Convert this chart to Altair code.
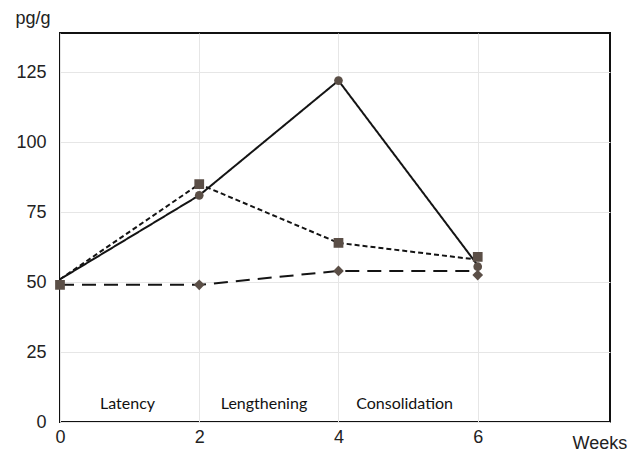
import altair as alt
import pandas as pd

weeks = [0, 2, 4, 6]
solid_vals = [51, 81, 122, 56]
short_vals = [51, 85, 64, 58]
long_vals = [49, 49, 54, 54]

# markers (week 0 shows only the square)
circle_weeks = [2, 4, 6]
circle_vals = [81, 122, 55.5]
square_weeks = [0, 2, 4, 6]
square_vals = [49, 85, 64, 59]
diamond_weeks = [2, 4, 6]
diamond_vals = [49, 54, 52.5]

phase_names = ["Latency", "Lengthening", "Consolidation"]
phase_x = [0.97, 2.93, 4.95]
phase_y = [3.5, 3.5, 3.5]

x_ticks = [0, 2, 4, 6]
y_ticks = [0, 25, 50, 75, 100, 125]

LINE = "#141414"
MARK = "#5b4f47"

xs = alt.Scale(domain=[0, 7.9], nice=False, zero=False)
ys = alt.Scale(domain=[0, 139], nice=False)

xax = alt.Axis(values=x_ticks, format="d", title="Weeks", titleAngle=0, titleX=512, titleY=26,
               titleAlign="left", titleBaseline="alphabetic", titleFontWeight="normal",
               titleFontSize=18, titleColor="#222", labelFontSize=18, labelColor="#222",
               labelPadding=6, ticks=False, domain=False, grid=True, gridColor="#e6e6e6",
               labelFlush=False, labelOverlap=False, labelFont="Liberation Sans",
               titleFont="Liberation Sans")
yax = alt.Axis(values=y_ticks, format="d", title="pg/g", titleAngle=0, titleX=-45, titleY=-10,
               titleAlign="left", titleBaseline="alphabetic", titleFontWeight="normal",
               titleFontSize=18, titleColor="#222", labelFontSize=18, labelColor="#222",
               labelPadding=14, ticks=False, domain=False, grid=True, gridColor="#e6e6e6",
               labelFont="Liberation Sans", titleFont="Liberation Sans")


def line(vals, dash):
    df = pd.DataFrame({"w": weeks, "v": vals})
    m = alt.Chart(df).mark_line(color=LINE, strokeWidth=2, strokeDash=dash)
    return m.encode(x=alt.X("w:Q", scale=xs, axis=xax), y=alt.Y("v:Q", scale=ys, axis=yax))


def pts(wk, vals, shape, size):
    df = pd.DataFrame({"w": wk, "v": vals})
    return alt.Chart(df).mark_point(shape=shape, filled=True, color=MARK, opacity=1, size=size).encode(
        x=alt.X("w:Q", scale=xs), y=alt.Y("v:Q", scale=ys))


phases = alt.Chart(pd.DataFrame({"n": phase_names, "x": phase_x, "y": phase_y})).mark_text(
    font="Lato", fontSize=16, color="#111", baseline="bottom").encode(
    x=alt.X("x:Q", scale=xs), y=alt.Y("y:Q", scale=ys), text="n:N")

chart = alt.layer(
    line(solid_vals, [1, 0]),
    line(short_vals, [5, 3]),
    line(long_vals, [14, 8]),
    pts(circle_weeks, circle_vals, "circle", 75),
    pts(square_weeks, square_vals, "square", 95),
    pts(diamond_weeks, diamond_vals, "diamond", 115),
    phases,
).properties(
    width=550, height=389,
    background="white",
    autosize=alt.AutoSizeParams(type="none"),
    padding={"left": 52, "top": 25, "right": 26, "bottom": 30},
).configure_view(stroke="#111", strokeWidth=2)

chart.save("out.html", embed_options={"renderer": "svg", "actions": False})
